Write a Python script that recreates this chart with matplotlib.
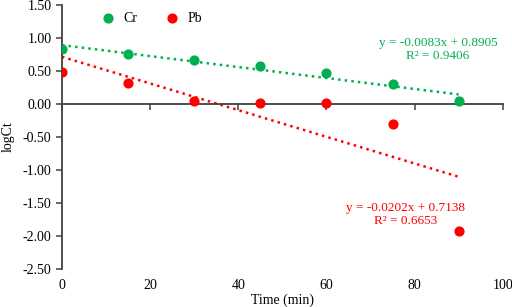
import numpy as np
import matplotlib.pyplot as plt
import matplotlib.transforms as mtransforms

plt.rcParams['font.family'] = ['Liberation Serif', 'DejaVu Serif']

time = [0, 15, 30, 45, 60, 75, 90]
cr = [0.83, 0.76, 0.66, 0.57, 0.47, 0.30, 0.04]
pb = [0.48, 0.31, 0.05, 0.02, 0.01, -0.30, -1.92]

# trend line coefficients
cr_slope, cr_icpt = -0.0083, 0.8905
pb_slope, pb_icpt = -0.0202, 0.7138

green = '#00B050'
red = '#FF0000'
axcol = '#404040'

fig = plt.figure(figsize=(5.12, 3.07), dpi=100)
ax = fig.add_axes([0.121, 0.124, 0.861, 0.86])

ax.scatter(time, cr, s=40, color=green, zorder=3, label='Cr')
ax.scatter(time, pb, s=40, color=red, zorder=3, label='Pb')

tx = np.array([time[0], time[-1]])
ax.plot(tx, cr_slope * tx + cr_icpt, ':', color=green, lw=1.8, zorder=2)
ax.plot(tx, pb_slope * tx + pb_icpt, ':', color=red, lw=1.8, zorder=2)

ax.set_xlim(0, 100)
ax.set_ylim(-2.5, 1.5)
yt = np.arange(-2.5, 1.51, 0.5)
ax.set_yticks(yt)
ax.set_yticklabels(['%.2f' % v for v in yt], fontsize=10)

for s in ['top', 'right']:
    ax.spines[s].set_visible(False)
ax.spines['bottom'].set_position(('data', 0))
for s in ['left', 'bottom']:
    ax.spines[s].set_color(axcol)
    ax.spines[s].set_linewidth(1.3)
ax.tick_params(colors=axcol, width=1.1, length=4, labelcolor='black')
ax.tick_params(axis='x', direction='out', labelbottom=False)

xt = [0, 20, 40, 60, 80, 100]
ax.set_xticks(xt)
trans = mtransforms.blended_transform_factory(ax.transData, ax.transAxes)
for v in xt:
    ax.text(v, -0.037, str(v), transform=trans, ha='center', va='top', fontsize=10)
ax.text(50, -0.095, 'Time (min)', transform=trans, ha='center', va='top', fontsize=10)
ax.set_ylabel('logCt', fontsize=10, labelpad=6)

ax.legend(loc='upper left', bbox_to_anchor=(0.045, 1.02), ncol=2, frameon=False,
          fontsize=10, handletextpad=0.1, columnspacing=1.5, markerscale=1.0)

ax.text(85.3, 0.82, 'y = -0.0083x + 0.8905\nR² = 0.9406', color=green,
        fontsize=9.5, ha='center', va='center', linespacing=1.1)
ax.text(78, -1.68, 'y = -0.0202x + 0.7138\nR² = 0.6653', color=red,
        fontsize=9.5, ha='center', va='center', linespacing=1.1)

fig.savefig('out.png', dpi=100)
